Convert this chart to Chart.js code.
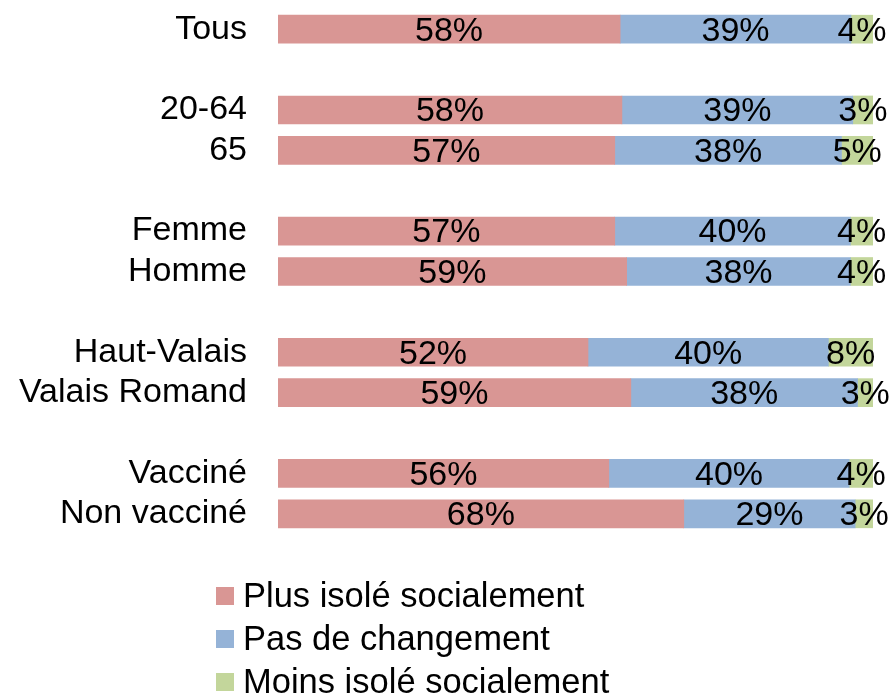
<!DOCTYPE html>
<html>
<head>
<meta charset="utf-8">
<script src="https://cdn.jsdelivr.net/npm/chart.js@4/dist/chart.umd.min.js"></script>
<style>
	html, body { margin: 0; padding: 0; background: #fff; }
	#wrap { width: 889px; height: 697px; }
</style>
</head>
<body>
<div id="wrap"><canvas id="graphicIsolation" width="889" height="697"></canvas></div>
<script>
// categories (empty strings are the gaps between groups)
const categories = ['Tous', '', '20-64', '65', '', 'Femme', 'Homme', '', 'Haut-Valais', 'Valais Romand', '', 'Vacciné', 'Non vacciné'];
const seriesNames = ['Plus isolé socialement', 'Pas de changement', 'Moins isolé socialement'];
const plusIsole = [57.5, null, 57.8, 56.6, null, 56.6, 58.6, null, 52.1, 59.3, null, 55.6, 68.2];
const pasDeChangement = [38.8, null, 38.8, 38.1, null, 39.6, 37.6, null, 40.4, 38.1, null, 40.4, 28.8];
const moinsIsole = [3.7, null, 3.4, 5.3, null, 3.8, 3.8, null, 7.5, 2.6, null, 4.0, 3.0];
const colors = ['#D99694', '#95B3D7', '#C3D69B'];

const FONT = "'Liberation Sans', Arial, sans-serif";

const valueLabels = {
	id: 'valueLabels',
	afterDatasetsDraw: function(chart) {
		const ctx = chart.ctx;
		ctx.save();
		ctx.font = '34px ' + FONT;
		ctx.fillStyle = '#000';
		ctx.textAlign = 'center';
		ctx.textBaseline = 'middle';
		chart.data.datasets.forEach(function(ds, i) {
			chart.getDatasetMeta(i).data.forEach(function(bar, j) {
				const v = ds.data[j];
				if (v === null) return;
				ctx.fillText(Math.round(v) + '%', (bar.x + bar.base) / 2, bar.y + 2);
			});
		});
		ctx.restore();
	}
};

// legend as a single left-aligned column under the bars
const columnLegend = {
	id: 'columnLegend',
	afterDraw: function(chart) {
		const ctx = chart.ctx;
		ctx.save();
		ctx.font = '34.5px ' + FONT;
		ctx.textBaseline = 'middle';
		ctx.textAlign = 'left';
		chart.data.datasets.forEach(function(ds, i) {
			const y = 596 + i * 43;
			ctx.fillStyle = ds.backgroundColor;
			ctx.fillRect(216, y - 9, 18, 18);
			ctx.fillStyle = '#000';
			ctx.fillText(ds.label, 243, y + 1);
		});
		ctx.restore();
	}
};

const graphic = new Chart(document.getElementById('graphicIsolation').getContext('2d'), {
	type: 'bar',
	data: {
		labels: categories,
		datasets: [
			{ label: seriesNames[0], data: plusIsole, backgroundColor: colors[0] },
			{ label: seriesNames[1], data: pasDeChangement, backgroundColor: colors[1] },
			{ label: seriesNames[2], data: moinsIsole, backgroundColor: colors[2] }
		]
	},
	options: {
		indexAxis: 'y',
		responsive: false,
		animation: false,
		barThickness: 28,
		layout: { padding: { left: 0, right: 16, top: 9, bottom: 163 } },
		scales: {
			x: {
				stacked: true,
				min: 0,
				max: 100,
				display: false
			},
			y: {
				stacked: true,
				grid: { display: false, drawTicks: false },
				border: { display: false },
				ticks: {
					color: '#000',
					padding: 31,
					autoSkip: false,
					font: { family: FONT, size: 34 }
				},
				afterFit: function(scale) {
					scale.width = 278;
					scale.paddingTop = 0;
					scale.paddingBottom = 0;
				}
			}
		},
		plugins: {
			legend: { display: false },
			tooltip: { enabled: false }
		}
	},
	plugins: [valueLabels, columnLegend]
});
</script>
</body>
</html>
